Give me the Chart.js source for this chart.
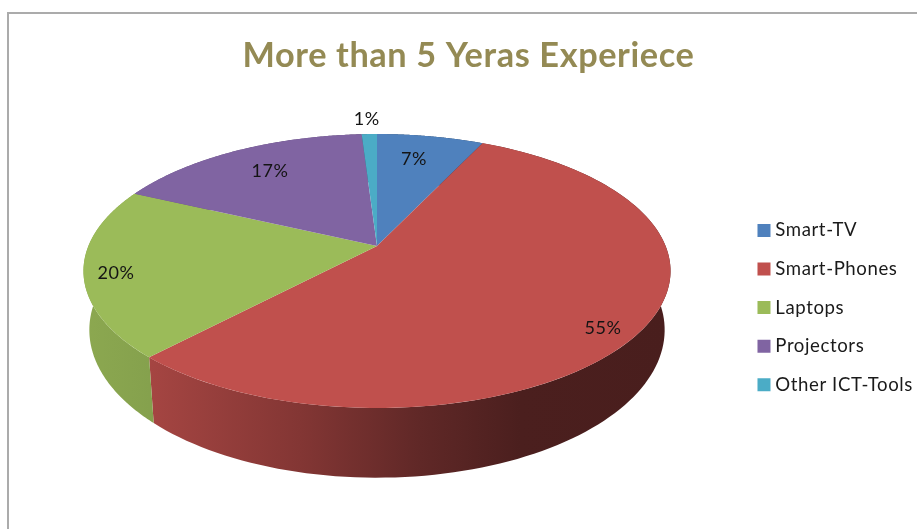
<!DOCTYPE html>
<html>
<head>
<meta charset="utf-8">
<title>More than 5 Yeras Experiece</title>
<script src="https://cdn.jsdelivr.net/npm/chart.js@4"></script>
<style>
    html, body { margin: 0; background: #fff; overflow: hidden; }
    #frame { position: absolute; left: 7px; top: 12px; width: 920px; height: 530px; border: 2px solid #ababab; }
    #pie-chart { position: absolute; left: 0; top: 0; }
</style>
</head>
<body>
<div id="frame"></div>
<canvas id="pie-chart" width="917" height="529"></canvas>
<script>
var categories = ['Smart-TV', 'Smart-Phones', 'Laptops', 'Projectors', 'Other ICT-Tools'];
var shares = [7, 55, 20, 17, 1];
var sliceColors = ['#4F81BD', '#C0504D', '#9BBB59', '#8064A2', '#4BACC6'];

// where each percent label sits on the disc: fraction of the radius, and degrees off the slice middle
var labelRadius = [0.761, 0.897, 0.894, 0.755, 1.164];
var labelTurn = [-1.56, 4.15, -1.9, 1, -0.3];

// perspective of the tilted disc
var centerX = 377, centerY = 246;
var discRadius = 288.6;
var tilt = 0.1825;
var yStretch = 87.5;
var rimDepth = 57;
var rimShrink = 0.98;

// x position -> brightness of the rim, lit from the left
var rimShade = [[83, 0.9], [150, 0.86], [300, 0.68], [420, 0.5], [520, 0.39], [670, 0.38]];

function project(angle, r) {
    var u = Math.cos(angle) * r;
    var v = Math.sin(angle) * r;
    var w = 1 - tilt * v;
    return { x: centerX + discRadius * u / w, y: (centerY + yStretch * v) / w, w: w };
}

function rimPoint(angle) {
    var p = project(angle, 1);
    return { x: centerX + (p.x - centerX) * rimShrink, y: p.y + rimDepth / p.w };
}

function darken(hex, f) {
    var n = parseInt(hex.slice(1), 16);
    return 'rgb(' + Math.round((n >> 16) * f) + ',' + Math.round(((n >> 8) & 255) * f) + ',' + Math.round((n & 255) * f) + ')';
}

function drawRim(ctx, arc, color) {
    var steps = 120, i, a, p;
    var grad = ctx.createLinearGradient(83, 0, 670, 0);
    rimShade.forEach(function (s) {
        grad.addColorStop((s[0] - 83) / 587, darken(color, s[1]));
    });
    ctx.beginPath();
    for (i = 0; i <= steps; i++) {
        a = arc.startAngle + (arc.endAngle - arc.startAngle) * i / steps;
        p = project(a, 1);
        ctx.lineTo(p.x, p.y);
    }
    for (i = steps; i >= 0; i--) {
        a = arc.startAngle + (arc.endAngle - arc.startAngle) * i / steps;
        p = rimPoint(a);
        ctx.lineTo(p.x, p.y);
    }
    ctx.closePath();
    ctx.fillStyle = grad;
    ctx.fill();
}

function drawFace(ctx, arc, color) {
    var steps = 160, i, p;
    ctx.beginPath();
    ctx.moveTo(centerX, centerY);
    for (i = 0; i <= steps; i++) {
        p = project(arc.startAngle + (arc.endAngle - arc.startAngle) * i / steps, 1);
        ctx.lineTo(p.x, p.y);
    }
    ctx.closePath();
    ctx.fillStyle = color;
    ctx.fill();
}

// draws the slices as a tilted disc with a rim, using the angles the controller worked out
var tiltedPie = {
    id: 'tiltedPie',
    beforeLayout: function (chart) {
        // all text on this chart runs a little wide
        chart.ctx.letterSpacing = '0.6px';
    },
    beforeDatasetDraw: function (chart, args) {
        var ctx = chart.ctx;
        var arcs = args.meta.data;
        ctx.save();
        arcs.forEach(function (arc, i) { drawRim(ctx, arc, sliceColors[i]); });
        arcs.forEach(function (arc, i) { drawFace(ctx, arc, sliceColors[i]); });

        ctx.fillStyle = '#141414';
        ctx.font = '18px Lato';
        ctx.textAlign = 'center';
        ctx.textBaseline = 'middle';
        arcs.forEach(function (arc, i) {
            var mid = (arc.startAngle + arc.endAngle) / 2 + labelTurn[i] * Math.PI / 180;
            var p = project(mid, labelRadius[i]);
            ctx.fillText(shares[i] + '%', p.x, p.y);
        });
        ctx.restore();
        return false;
    }
};

var ctx = document.getElementById('pie-chart').getContext('2d');

var pieChart = new Chart(ctx, {
    type: 'pie',
    data: {
        labels: categories,
        datasets: [{
            data: shares,
            backgroundColor: sliceColors,
            borderColor: sliceColors,
            borderWidth: 9
        }]
    },
    options: {
        responsive: false,
        animation: false,
        layout: {
            padding: { left: 14, right: -6, top: 0, bottom: -2 }
        },
        plugins: {
            title: {
                display: true,
                text: 'More than 5 Yeras Experiece',
                color: '#948A54',
                font: { family: 'Lato', size: 34.3, weight: 'bold' },
                padding: { top: 35, bottom: 10 }
            },
            legend: {
                position: 'right',
                fullSize: false,
                labels: {
                    boxWidth: 4,
                    boxHeight: 4,
                    padding: 20,
                    color: '#1a1a1a',
                    font: { family: 'Lato', size: 18.6 }
                }
            },
            tooltip: { enabled: false }
        }
    },
    plugins: [tiltedPie]
});
</script>
</body>
</html>
